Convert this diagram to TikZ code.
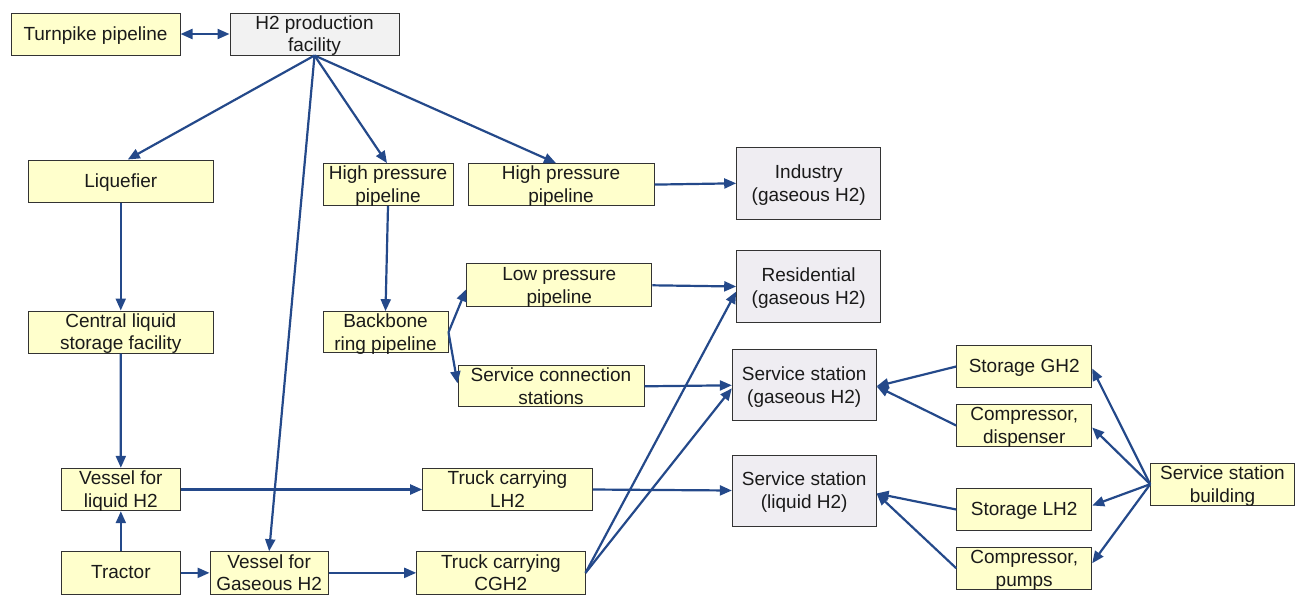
\documentclass[tikz,border=0pt]{standalone}
\usepackage{fontspec}
\setmainfont{Liberation Sans}
\usetikzlibrary{arrows.meta}
\definecolor{boxyellow}{HTML}{FFFFCC}
\definecolor{boxgray}{HTML}{EFEDF2}
\definecolor{prodgray}{HTML}{F2F2F2}
\definecolor{edgeline}{HTML}{333333}
\definecolor{flowblue}{HTML}{24498A}
\definecolor{txt}{HTML}{1A1A1A}
\tikzset{
  box/.style={draw=edgeline, line width=1pt, inner sep=0pt, align=center,
    text=txt, font=\fontsize{19}{22.7}\selectfont},
  oneline/.style={text height=14pt, text depth=2pt},
  twoline/.style={text height=37.8pt, text depth=2pt},
  ybox/.style={box, fill=boxyellow},
  gbox/.style={box, fill=boxgray},
  pbox/.style={box, fill=prodgray},
  flow/.style={draw=flowblue, line width=2.2pt, -{Triangle[length=12pt,width=10pt]}},
  biflow/.style={draw=flowblue, line width=2.2pt, {Triangle[length=12pt,width=10pt]}-{Triangle[length=12pt,width=10pt]}}
}
\begin{document}
\begin{tikzpicture}[x=1pt,y=-1pt]
\useasboundingbox (0,0) rectangle (1305,595);

% production and pipelines
\node[ybox, oneline, minimum width=169pt, minimum height=42pt] (turn) at (95.5,34) {Turnpike pipeline};
\node[pbox, twoline, minimum width=169pt, minimum height=42pt] (prod) at (314.5,34) {H2 production\\facility};
\node[ybox, oneline, minimum width=185.5pt, minimum height=42pt] (liq) at (120.75,181) {Liquefier};
\node[ybox, twoline, minimum width=130pt, minimum height=42pt] (hp1) at (388,184.6) {High pressure\\pipeline};
\node[ybox, twoline, minimum width=186pt, minimum height=42pt] (hp2) at (561,184.6) {High pressure\\pipeline};
\node[gbox, twoline, minimum width=144pt, minimum height=72pt] (ind) at (808.7,183.3) {Industry\\(gaseous H2)};
\node[ybox, twoline, minimum width=185.3pt, minimum height=42.7pt] (lp) at (559.3,285.3) {Low pressure\\pipeline};
\node[gbox, twoline, minimum width=144pt, minimum height=71.6pt] (res) at (808.7,286.5) {Residential\\(gaseous H2)};
\node[ybox, twoline, minimum width=185.5pt, minimum height=42pt] (cls) at (120.75,332) {Central liquid\\storage facility};
\node[ybox, twoline, minimum width=125pt, minimum height=41.3pt] (bb) at (385.5,332.3) {Backbone\\ring pipeline};
\node[ybox, twoline, minimum width=186pt, minimum height=41.3pt] (scs) at (551,386.3) {Service connection\\stations};

% service stations
\node[gbox, twoline, minimum width=143.7pt, minimum height=70.7pt] (ssg) at (804.2,385.3) {Service station\\(gaseous H2)};
\node[gbox, twoline, minimum width=143.7pt, minimum height=71pt] (ssl) at (804.2,490.5) {Service station\\(liquid H2)};
\node[ybox, oneline, minimum width=135pt, minimum height=41.6pt] (sgh) at (1024.2,366.5) {Storage GH2};
\node[ybox, twoline, minimum width=135pt, minimum height=42.4pt] (cd) at (1024.2,425.5) {Compressor,\\dispenser};
\node[ybox, oneline, minimum width=135pt, minimum height=41.6pt] (slh) at (1024.2,509.5) {Storage LH2};
\node[ybox, twoline, minimum width=135pt, minimum height=41.7pt] (cp) at (1024.2,568.2) {Compressor,\\pumps};
\node[ybox, twoline, minimum width=143.6pt, minimum height=41.7pt] (ssb) at (1222.5,484.2) {Service station\\building};

% transport
\node[ybox, twoline, minimum width=118.3pt, minimum height=42.4pt] (vl) at (120.85,489.5) {Vessel for\\liquid H2};
\node[ybox, twoline, minimum width=169.6pt, minimum height=42.4pt] (tlh) at (507.5,489.5) {Truck carrying\\LH2};
\node[ybox, oneline, minimum width=118.3pt, minimum height=42.3pt] (tr) at (120.85,572.85) {Tractor};
\node[ybox, twoline, minimum width=118.3pt, minimum height=42.3pt] (vg) at (269.15,572.85) {Vessel for\\Gaseous H2};
\node[ybox, twoline, minimum width=168.3pt, minimum height=42.3pt] (tc) at (500.85,572.85) {Truck carrying\\CGH2};

% connectors
\draw[biflow] (turn.east) -- (prod.west);
\draw[flow] (prod.south) -- ([xshift=7pt]liq.north);
\draw[flow] (prod.south) -- (vg.north);
\draw[flow] (prod.south) -- ([xshift=-1pt]hp1.north);
\draw[flow] (prod.south) -- ([xshift=-5pt]hp2.north);
\draw[flow] (hp2.east) -- (ind.west);
\draw[flow] (hp1.south) -- (bb.north);
\draw[flow] (liq.south) -- (cls.north);
\draw[flow] (cls.south) -- (vl.north);
\draw[flow] (tr.north) -- (vl.south);
\draw[flow] (tr.east) -- (vg.west);
\draw[flow] (vg.east) -- (tc.west);
\draw[flow] (vl.east) -- (tlh.west);
\draw[flow] (tlh.east) -- (ssl.west);
\draw[flow] (bb.east) -- ([yshift=-4pt]lp.west);
\draw[flow] (bb.east) -- ([yshift=3pt]scs.west);
\draw[flow] (lp.east) -- (res.west);
\draw[flow] (scs.east) -- (ssg.west);
\draw[flow] (tc.east) -- ([yshift=-5pt]res.west);
\draw[flow] (tc.east) -- ([yshift=-3pt]ssg.west);
\draw[flow] (sgh.west) -- ([yshift=-1pt]ssg.east);
\draw[flow] (cd.west) -- ([yshift=-1pt]ssg.east);
\draw[flow] (slh.west) -- ([yshift=-3pt]ssl.east);
\draw[flow] (cp.west) -- ([yshift=-3pt]ssl.east);
\draw[flow] (ssb.west) -- ([yshift=-2pt]sgh.east);
\draw[flow] (ssb.west) -- ([yshift=-2pt]cd.east);
\draw[flow] (ssb.west) -- ([yshift=4pt]slh.east);
\draw[flow] (ssb.west) -- ([yshift=5pt]cp.east);
\end{tikzpicture}
\end{document}
